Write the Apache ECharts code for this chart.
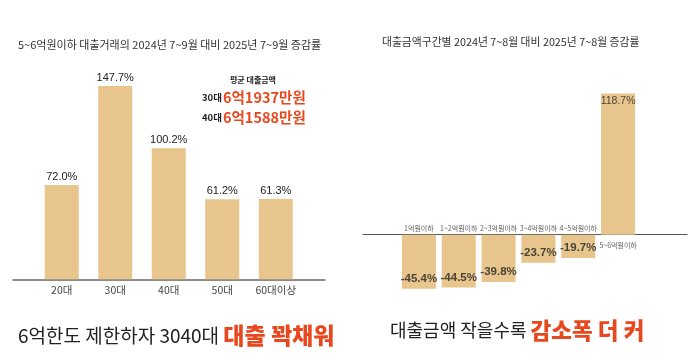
<!DOCTYPE html>
<html>
<head>
<meta charset="utf-8">
<script src="https://cdn.jsdelivr.net/npm/echarts@6/dist/echarts.min.js"></script>
<style>html,body{margin:0;padding:0;background:#fff}#c{width:700px;height:363px}</style>
</head>
<body>
<div id="c"></div>
<script>
// Left chart data
const ageCategories = ['20대', '30대', '40대', '50대', '60대이상'];
const ageChange = [72.0, 147.7, 100.2, 61.2, 61.3];
// Right chart data
const amountCategories = ['1억원이하', '1~2억원이하', '2~3억원이하', '3~4억원이하', '4~5억원이하', '5~6억원이하'];
const amountChange = [-45.4, -44.5, -39.8, -23.7, -19.7, 118.7];

const KR = '"Noto Sans CJK KR", "Noto Sans", sans-serif';
const NARROW = '"Liberation Sans Narrow", "Liberation Sans", sans-serif';
const BAR = '#E8C58C';
const RED = '#E8481E';
const TXT = '#333';

const chart = echarts.init(document.getElementById('c'), null, {renderer: 'canvas'});

const option = {
  backgroundColor: '#fff',
  animation: false,
  title: [
    {text: '5~6억원이하 대출거래의 2024년 7~9월 대비 2025년 7~9월 증감률', left: 18, top: 39, padding: 0,
     textStyle: {fontFamily: KR, fontSize: 11, fontWeight: 'normal', color: TXT}},
    {text: '대출금액구간별 2024년 7~8월 대비 2025년 7~8월 증감률', left: 382, top: 37, padding: 0,
     textStyle: {fontFamily: KR, fontSize: 10.8, fontWeight: 'normal', color: TXT}},
    {text: '평균 대출금액', left: 230, top: 76, padding: 0,
     textStyle: {fontFamily: KR, fontSize: 8, fontWeight: 'bold', color: '#222'}},
    {text: '{s|30대}{r|6억1937만원}', left: 202, top: 90, padding: 0,
     textStyle: {rich: {
       s: {fontFamily: KR, fontSize: 9.5, color: '#222', verticalAlign: 'bottom', padding: [0, 1, 2, 0]},
       r: {fontFamily: KR, fontSize: 14.5, color: RED, fontWeight: 'bold'}}}},
    {text: '{s|40대}{r|6억1588만원}', left: 202, top: 110, padding: 0,
     textStyle: {rich: {
       s: {fontFamily: KR, fontSize: 9.5, color: '#222', verticalAlign: 'bottom', padding: [0, 1, 2, 0]},
       r: {fontFamily: KR, fontSize: 14.5, color: RED, fontWeight: 'bold'}}}},
    {text: '{a|6억한도 제한하자 3040대 }{b|대출 꽉채워}', left: 18, top: 324, padding: 0,
     textStyle: {rich: {
       a: {fontFamily: KR, fontSize: 19, color: '#222', fontWeight: 'normal', verticalAlign: 'middle'},
       b: {fontFamily: KR, fontSize: 23, color: RED, fontWeight: 900, verticalAlign: 'middle'}}}},
    {text: '{a|대출금액 작을수록 }{b|감소폭 더 커}', left: 390, top: 319, padding: 0,
     textStyle: {rich: {
       a: {fontFamily: KR, fontSize: 18, color: '#222', fontWeight: 'normal', verticalAlign: 'middle'},
       b: {fontFamily: KR, fontSize: 22.5, color: RED, fontWeight: 900, verticalAlign: 'middle'}}}}
  ],
  grid: [
    {left: 35, width: 267.5, top: 70, height: 209.3},
    {left: 13, width: 312, top: 70, height: 209.3},
    {left: 399, width: 239, top: 80, height: 226},
    {left: 363, width: 324, top: 80, height: 226}
  ],
  xAxis: [
    {gridIndex: 0, type: 'category', data: ageCategories,
     axisLine: {show: false}, axisTick: {show: false},
     axisLabel: {margin: 5, fontFamily: KR, fontSize: 10.5, color: '#444'}},
    {gridIndex: 1, type: 'value', min: 0, max: 1, splitLine: {show: false},
     axisLine: {show: true, lineStyle: {color: '#666', width: 1.5}}, axisTick: {show: false}, axisLabel: {show: false}},
    {gridIndex: 2, type: 'category', data: amountCategories,
     axisLine: {show: false}, axisTick: {show: false}, axisLabel: {show: false}},
    {gridIndex: 3, type: 'value', min: 0, max: 1, splitLine: {show: false},
     axisLine: {show: true, onZero: true, lineStyle: {color: '#555', width: 1.2}}, axisTick: {show: false}, axisLabel: {show: false}}
  ],
  yAxis: [
    {gridIndex: 0, type: 'value', min: 0, max: 160, show: false},
    {gridIndex: 1, type: 'value', min: 0, max: 160, show: false},
    {gridIndex: 2, type: 'value', min: -60, max: 130, show: false},
    {gridIndex: 3, type: 'value', min: -60, max: 130, show: false}
  ],
  series: [
    {type: 'bar', xAxisIndex: 0, yAxisIndex: 0, data: ageChange, barWidth: 34,
     itemStyle: {color: BAR},
     label: {show: true, position: 'top', distance: 3, formatter: p => p.value.toFixed(1) + '%',
             fontFamily: NARROW, fontSize: 11, color: '#222'}},
    {type: 'bar', xAxisIndex: 2, yAxisIndex: 2, data: amountChange, barWidth: 34,
     itemStyle: {color: BAR}},
    // category labels on the opposite side of the zero line
    {type: 'scatter', xAxisIndex: 2, yAxisIndex: 2, symbolSize: 0, silent: true,
     data: amountCategories.map((c, i) => ({
       value: [i, 0],
       label: {position: amountChange[i] < 0 ? 'top' : 'bottom', distance: amountChange[i] < 0 ? 3 : 7}
     })),
     label: {show: true, formatter: p => amountCategories[p.dataIndex],
             fontFamily: KR, fontSize: 7, color: '#333'}},
    // value labels inside bar ends
    {type: 'scatter', xAxisIndex: 2, yAxisIndex: 2, symbolSize: 0, silent: true,
     data: amountChange.map((v, i) => ({
       value: [i, v],
       label: v < 0
         ? {position: 'top', distance: 4, fontSize: 11.5, fontWeight: 'bold'}
         : {position: 'bottom', distance: 2, fontSize: 10.5, fontWeight: 'normal'}
     })),
     label: {show: true, formatter: p => amountChange[p.dataIndex].toFixed(1) + '%',
             fontFamily: NARROW, color: '#222'}}
  ]
};
chart.setOption(option);
</script>
</body>
</html>
